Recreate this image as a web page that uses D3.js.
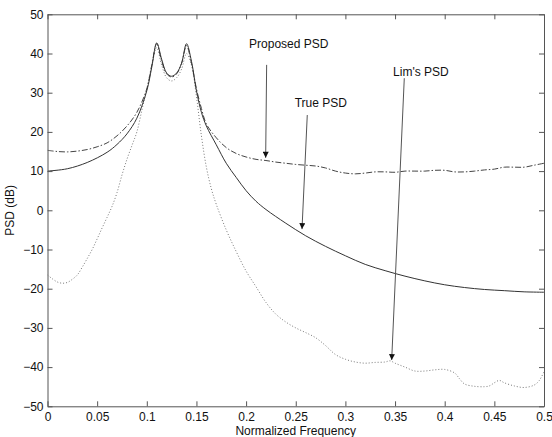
<!DOCTYPE html>
<html><head><meta charset="utf-8">
<script src="https://cdn.jsdelivr.net/npm/d3@7/dist/d3.min.js"></script>
<style>
body{margin:0;background:#fff;}
svg{display:block;font-family:"Liberation Sans",Arial,sans-serif;}
</style></head>
<body><div id="chart"></div>
<script>
const xTicks = [0,0.05,0.1,0.15,0.2,0.25,0.3,0.35,0.4,0.45,0.5];
const yTicks = [-50,-40,-30,-20,-10,0,10,20,30,40,50];

const trueX = [0,0.02,0.04,0.06,0.07,0.08,0.09,0.1,0.105,0.11,0.115,0.12,0.125,0.13,0.135,0.14,0.145,0.15,0.155,0.16,0.17,0.18,0.19,0.2,0.21,0.22,0.24,0.26,0.28,0.3,0.32,0.34,0.36,0.38,0.4,0.42,0.44,0.46,0.48,0.5];
const trueY = [10,10.6,12.2,14.8,16.8,19.5,23.5,30.5,36.5,42.7,38.5,35,34.2,35,37.5,42.5,38,30.5,25,21.5,16.7,12,8.4,5,2.3,0.2,-3.3,-6.5,-9.2,-11.6,-13.8,-15.4,-16.8,-18,-19,-19.7,-20.2,-20.5,-20.8,-20.9];

const propX = [0,0.01,0.02,0.03,0.04,0.05,0.06,0.07,0.08,0.09,0.1,0.105,0.11,0.115,0.12,0.125,0.13,0.135,0.14,0.145,0.15,0.155,0.16,0.17,0.18,0.19,0.2,0.21,0.22,0.23,0.24,0.25,0.26,0.27,0.28,0.29,0.3,0.31,0.32,0.33,0.34,0.35,0.36,0.37,0.38,0.39,0.4,0.41,0.42,0.43,0.44,0.45,0.46,0.47,0.48,0.49,0.5];
const propY = [15.3,15.0,14.9,15.1,15.5,16.2,17.2,19,21.5,25,31,37,42.5,38,34.8,34,34.8,37.5,42,37.5,31,26,22,18.5,16,14.5,13.6,13,12.7,12.3,12,11.7,11.5,11.3,10.8,10,9.5,9.3,9.5,9.8,9.8,9.7,10,10,10,10.2,10.2,9.8,9.8,10,10.3,10.5,11,11,11,11.5,12];

const limX = [0,0.005,0.01,0.015,0.02,0.025,0.03,0.035,0.04,0.045,0.05,0.055,0.06,0.065,0.07,0.075,0.08,0.085,0.09,0.095,0.1,0.105,0.11,0.115,0.12,0.125,0.13,0.135,0.14,0.145,0.15,0.155,0.16,0.165,0.17,0.18,0.19,0.2,0.21,0.22,0.23,0.24,0.25,0.26,0.27,0.28,0.29,0.3,0.31,0.32,0.33,0.34,0.345,0.35,0.36,0.37,0.38,0.39,0.4,0.41,0.415,0.42,0.43,0.44,0.445,0.45,0.455,0.46,0.47,0.48,0.49,0.495,0.5];
const limY = [-16.5,-17.5,-18.3,-18.6,-18.4,-17.6,-16.5,-14.5,-12.3,-10,-7.3,-4.5,-1.8,1,4.5,9,13,16.5,20,25.5,31,37,41.5,37,33.8,33,33.8,36,40,37,29,19,11,5.5,1.5,-5,-10.5,-15.5,-19.5,-23.5,-26.5,-28.5,-30,-31.2,-32.5,-34.5,-36.8,-38,-38.7,-39,-38.8,-38.7,-38.4,-39,-40,-41,-41,-40.7,-40.6,-41.5,-43,-44.3,-44.9,-45,-44.8,-44,-43.4,-44,-44.8,-45.2,-44.6,-43.5,-41.2];

const labels = ["Proposed PSD","True PSD","Lim's PSD"];
const labelPos = [[0.243,42.6],[0.2753,27.3],[0.376,35.4]];   // text centre (data units)
const arrowFrom = [[0.2207,37.1],[0.2616,24.3],[0.3593,33.7]];
const arrowTo = [[0.2197,13.4],[0.2563,-4.8],[0.3466,-38.2]];

(function(){
const W=552,H=437;
const m={l:47.5,r:8,t:14.3,b:30.7};
const x=d3.scaleLinear().domain([0,0.5]).range([m.l,W-m.r]);
const y=d3.scaleLinear().domain([-50,50]).range([H-m.b,m.t]);

const svg=d3.select("#chart").append("svg").attr("width",W).attr("height",H);
svg.append("rect").attr("width",W).attr("height",H).attr("fill","#fff");

const defs=svg.append("defs");
defs.append("clipPath").attr("id","clip").append("rect")
  .attr("x",x(0)).attr("y",y(50)).attr("width",x(0.5)-x(0)).attr("height",y(-50)-y(50));
defs.append("marker").attr("id","ah").attr("viewBox","0 0 10 10").attr("refX",10).attr("refY",5)
  .attr("markerWidth",9).attr("markerHeight",6).attr("markerUnits","userSpaceOnUse").attr("orient","auto")
  .append("path").attr("d","M0,0L10,5L0,10Z").attr("fill","#111");

const line=d3.line().x(d=>x(d[0])).y(d=>y(d[1])).curve(d3.curveCatmullRom);
const g=svg.append("g").attr("clip-path","url(#clip)");
g.append("path").datum(d3.zip(limX,limY)).attr("d",line).attr("fill","none")
  .attr("stroke","#777").attr("stroke-width",1).attr("stroke-dasharray","1,2");
g.append("path").datum(d3.zip(propX,propY)).attr("d",line).attr("fill","none")
  .attr("stroke","#444").attr("stroke-width",1).attr("stroke-dasharray","6,2,1.5,2");
g.append("path").datum(d3.zip(trueX,trueY)).attr("d",line).attr("fill","none")
  .attr("stroke","#333").attr("stroke-width",1);

const axCol="#555";
const tl=5;
const axB=svg.append("g").attr("transform",`translate(0,${y(-50)})`)
  .call(d3.axisBottom(x).tickValues(xTicks).tickSizeInner(-tl).tickSizeOuter(0).tickPadding(8).tickFormat(d3.format("")));
const axT=svg.append("g").attr("transform",`translate(0,${y(50)})`)
  .call(d3.axisTop(x).tickValues(xTicks).tickSizeInner(-tl).tickSizeOuter(0).tickFormat(""));
const axL=svg.append("g").attr("transform",`translate(${x(0)},0)`)
  .call(d3.axisLeft(y).tickValues(yTicks).tickSizeInner(-tl).tickSizeOuter(0).tickPadding(4));
const axR=svg.append("g").attr("transform",`translate(${x(0.5)},0)`)
  .call(d3.axisRight(y).tickValues(yTicks).tickSizeInner(-tl).tickSizeOuter(0).tickFormat(""));
[axB,axT,axL,axR].forEach(a=>{
  a.selectAll("path,line").attr("stroke",axCol).attr("stroke-width",1);
  a.selectAll("text").attr("fill","#111").attr("font-size",12).attr("font-family","'Liberation Sans',Arial,sans-serif");
});
axB.selectAll("text").attr("dy","0.6em");

svg.append("text").attr("x",(x(0)+x(0.5))/2).attr("y",H-2).attr("text-anchor","middle")
  .attr("font-size",12).attr("fill","#111").text("Normalized Frequency");
svg.append("text").attr("transform",`translate(14,${(y(50)+y(-50))/2}) rotate(-90)`).attr("text-anchor","middle")
  .attr("font-size",12).attr("fill","#111").text("PSD (dB)");

labels.forEach((t,i)=>{
  svg.append("text").attr("x",x(labelPos[i][0])).attr("y",y(labelPos[i][1])).attr("dy","0.35em")
    .attr("text-anchor","middle").attr("font-size",12).attr("fill","#111").text(t);
  svg.append("line").attr("x1",x(arrowFrom[i][0])).attr("y1",y(arrowFrom[i][1]))
    .attr("x2",x(arrowTo[i][0])).attr("y2",y(arrowTo[i][1]))
    .attr("stroke","#555").attr("stroke-width",1).attr("marker-end","url(#ah)");
});
})();
</script></body></html>
